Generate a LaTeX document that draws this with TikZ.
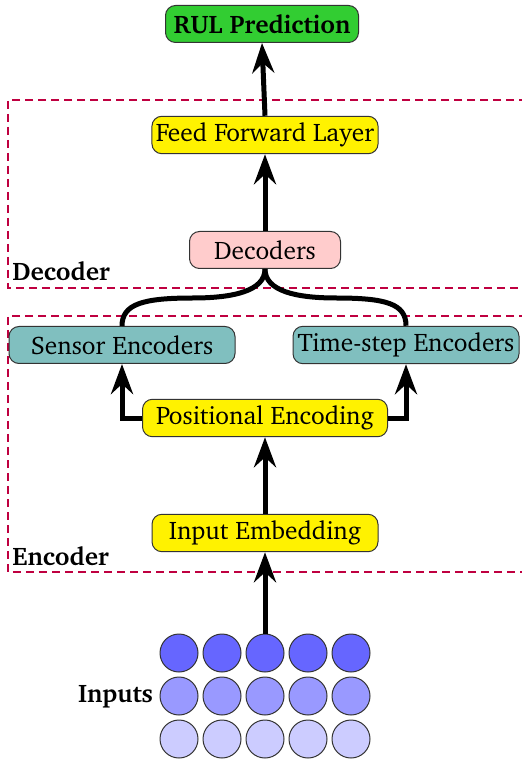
\documentclass[tikz,border=0pt]{standalone}
\usepackage[T1]{fontenc}
\usepackage{charter}
\usetikzlibrary{arrows.meta}
\begin{document}
\begin{tikzpicture}[x=0.5pt,y=-0.5pt,
	font=\fontsize{12.7}{15}\selectfont,
	block/.style={draw=black!80,line width=0.5pt,rounded corners=5pt,
		minimum height=18.5pt,minimum width=113pt,inner xsep=2pt},
	pfeil/.style={line width=2.5pt,-{Stealth[length=15pt,width=11pt,inset=5pt]}},
	bogen/.style={line width=2.5pt},
	rahmen/.style={draw=purple,line width=0.6pt,dash pattern=on 4pt off 2.5pt},
	kugel/.style={circle,draw=black!80,line width=0.5pt,minimum size=19pt,inner sep=0pt}]
	\useasboundingbox (0,0) rectangle (521,763);
%Rahmen
	\draw[rahmen] (540,100) -- (8,100) -- (8,288) -- (540,288);
	\draw[rahmen] (540,316) -- (8,316) -- (8,572) -- (540,572);
	\node[anchor=base west,inner sep=0pt,font=\fontsize{12.7}{15}\selectfont\bfseries]
		(declabel) at (12,281) {Decoder};
	\node[anchor=base west,inner sep=0pt,font=\fontsize{12.7}{15}\selectfont\bfseries]
		(enclabel) at (12,565) {Encoder};
%Bloecke
	\node[block,minimum width=96.5pt,fill={rgb,255:red,50;green,205;blue,50},
		font=\fontsize{12.7}{15}\selectfont\bfseries]
		(rul) at (262,24) {RUL Prediction};
	\node[block,fill=yellow] (ff) at (265,135) {Feed Forward Layer};
	\node[block,minimum width=75.5pt,fill=red!20] (dec) at (265,250) {Decoders};
	\node[block,fill=teal!50] (sen) at (122,345) {Sensor Encoders};
	\node[block,fill=teal!50] (time) at (406,345) {Time-step Encoders};
	\node[block,minimum width=122.5pt,fill=yellow] (pos) at (265,418) {Positional Encoding};
	\node[block,fill=yellow] (emb) at (265,533) {Input Embedding};
%Eingaben
	\foreach \farbe [count=\r] in {60,40,20}{
		\foreach \x [count=\c] in {179,222,265,308,351}{
			\node[kugel,fill=blue!\farbe] (k\r\c) at (\x,{610+43*\r}) {};}}
	\node[anchor=east,inner sep=3pt,font=\fontsize{12.7}{15}\selectfont\bfseries]
		(inputs) at (k21.west) {Inputs};
%Verbindungen
	\coordinate (links) at (193,298);
	\coordinate (rechts) at (336,298);
	\draw[pfeil] (k13.north) -- (emb.south);
	\draw[pfeil] (emb.north) -- (pos.south);
	\draw[pfeil] (pos.west) -| (sen.south);
	\draw[pfeil] (pos.east) -| (time.south);
	\draw[bogen] (dec.south) .. controls +(0,22) and +(40,0) .. (links)
		.. controls +(-50,0) and +(0,-22) .. (sen.north);
	\draw[bogen] (dec.south) .. controls +(0,22) and +(-40,0) .. (rechts)
		.. controls +(50,0) and +(0,-22) .. (time.north);
	\draw[pfeil] (dec.north) -- (ff.south);
	\draw[pfeil] (ff.north) -- (rul.south);
\end{tikzpicture}
\end{document}
